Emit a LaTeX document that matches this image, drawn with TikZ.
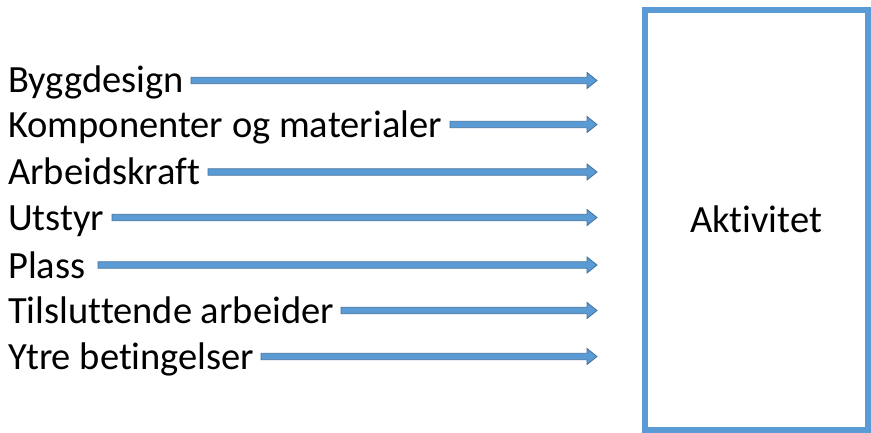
\documentclass[tikz,border=0pt]{standalone}
\usepackage{fontspec}
\setmainfont{Carlito}[Ligatures=NoCommon]
\usetikzlibrary{calc}
\definecolor{accent}{HTML}{5B9BD5}
\definecolor{accentdark}{HTML}{41719C}
\tikzset{
  label text/.style={anchor=base west, inner sep=0pt, font=\fontsize{38.5}{42}\selectfont},
  block arrow/.style={fill=accent, draw=accentdark, line width=0.8pt, line join=miter},
  activity box/.style={draw=accent, line width=6pt, inner sep=0pt, minimum width=223pt, minimum height=420pt,
    font=\fontsize{38.5}{42}\selectfont}
}
\newcommand\blockarrow[2]{%
  \path[block arrow] let \p1=(#1), \p2=(#2) in
    (\x1,\y1+3.2pt) -- (\x2-10pt,\y1+3.2pt) -- (\x2-10pt,\y1+8pt) -- (\x2,\y1) --
    (\x2-10pt,\y1-8pt) -- (\x2-10pt,\y1-3.2pt) -- (\x1,\y1-3.2pt) -- cycle;}
\begin{document}
\begin{tikzpicture}[x=1pt,y=-1pt]
\useasboundingbox (0,0) rectangle (871,433);
\node[activity box] (akt) at (756,219.7) {Aktivitet};

\node[label text] (t1) at (8,93) {Byggdesign};
\node[label text] (t2) at (8,138) {Komponenter og materialer};
\node[label text] (t3) at (8,185) {Arbeidskraft};
\node[label text] (t4) at (8,231) {Utstyr};
\node[label text] (t5) at (8,278) {Plass};
\node[label text] (t6) at (8,323.5) {Tilsluttende arbeider};
\node[label text] (t7) at (8,369.5) {Ytre betingelser};

\coordinate (s1) at (191,80.5);   \coordinate (e1) at (597,80.5);
\coordinate (s2) at (450,124.5);  \coordinate (e2) at (597,124.5);
\coordinate (s3) at (208,172);    \coordinate (e3) at (597,172);
\coordinate (s4) at (112,217.5);  \coordinate (e4) at (597,217.5);
\coordinate (s5) at (98,265);     \coordinate (e5) at (597,265);
\coordinate (s6) at (341,310.5);  \coordinate (e6) at (597,310.5);
\coordinate (s7) at (261,356.5);  \coordinate (e7) at (597,356.5);

\foreach \i in {1,...,7} {\blockarrow{s\i}{e\i}}
\end{tikzpicture}
\end{document}
